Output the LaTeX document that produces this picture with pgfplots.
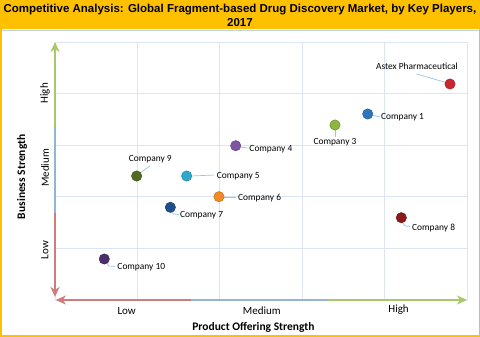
\documentclass[border=0pt]{standalone}
\usepackage{pgfplots}
\pgfplotsset{compat=1.18}
\usepackage{fontspec}
\setmainfont{Carlito}
\newfontfamily\arialf{Liberation Sans}
\usetikzlibrary{arrows.meta}
\definecolor{bandor}{HTML}{FFC000}
\definecolor{gridc}{HTML}{DCE6F2}
\definecolor{axred}{HTML}{D07C7C}
\definecolor{axblue}{HTML}{95B3D7}
\definecolor{axgreen}{HTML}{A9C86A}
\definecolor{lead}{HTML}{9DC3E6}
\definecolor{cA}{HTML}{C8282D}
\definecolor{cone}{HTML}{2E74C0}
\definecolor{cthree}{HTML}{8DB63C}
\definecolor{cfour}{HTML}{7D55A6}
\definecolor{cfive}{HTML}{2FA9CB}
\definecolor{cnine}{HTML}{4E6B1E}
\definecolor{csix}{HTML}{F08A24}
\definecolor{cseven}{HTML}{1F4E8C}
\definecolor{ceight}{HTML}{8B1A1A}
\definecolor{cten}{HTML}{4A2F6B}
\tikzset{ld/.style={lead, line width=0.7pt}, lb/.style={font=\fontsize{9.4}{11}\selectfont, inner sep=0pt}}
\pgfplotsset{pt/.style={only marks, mark=*, mark size=5.2pt, mark options={fill=#1, draw=#1!75!black, line width=0.4pt}}}
\begin{document}
\begin{tikzpicture}[x=1pt,y=1pt]
\useasboundingbox (0,0) rectangle (480,337);
\fill[white] (0,0) rectangle (480,337);
\fill[bandor] (0,307.5) rectangle (480,337);
\draw[axblue!60!white, line width=0.8] (1.5,307) -- (478.5,307);
\draw[bandor, line width=1.5] (0.75,0.75) rectangle (479.25,336.25);
\node[font=\arialf\bfseries\fontsize{11.5}{13}\selectfont, inner sep=0] at (240,327.5) {Competitive Analysis: Global Fragment-based Drug Discovery Market, by Key Players,};
\node[font=\arialf\bfseries\fontsize{11.5}{13}\selectfont, inner sep=0] at (240,314.5) {2017};
\node[font=\bfseries\fontsize{11.5}{13}\selectfont, inner sep=0] at (253.5,10) {Product Offering Strength};
\node[font=\bfseries\fontsize{11.5}{13}\selectfont, inner sep=0, rotate=90] at (22,160.3) {Business Strength};
\begin{axis}[at={(55pt,37pt)}, anchor=south west, scale only axis, width=412pt, height=258pt,
  xmin=0, xmax=5, ymin=0, ymax=5, xtick={0,...,5}, ytick={0,...,5},
  xticklabels={,,,,,}, yticklabels={,,,,,}, major tick length=0pt, grid=major,
  grid style={gridc, line width=0.8pt}, axis line style={draw=none}, clip=false]
% coloured axes
\draw[axblue, line width=1.6pt] (axis cs:1.655,0) -- (axis cs:3.313,0);
\draw[axred, line width=1.6pt, -{Stealth[length=10pt,width=9pt,inset=3pt]}] (axis cs:1.655,0) -- (axis cs:0.01,0);
\draw[axgreen, line width=1.6pt, -{Stealth[length=10pt,width=9pt,inset=3pt]}] (axis cs:3.313,0) -- (axis cs:5,0);
\draw[axblue, line width=1.6pt] (axis cs:0,1.686) -- (axis cs:0,3.35);
\draw[axred, line width=1.6pt, -{Stealth[length=10pt,width=9pt,inset=3pt]}] (axis cs:0,1.686) -- (axis cs:0,0.06);
\draw[axgreen, line width=1.6pt, -{Stealth[length=10pt,width=9pt,inset=3pt]}] (axis cs:0,3.35) -- (axis cs:0,5);
% level labels
\node[font=\fontsize{11}{13}\selectfont, yshift=-11pt] at (axis cs:0.87,0) {Low};
\node[font=\fontsize{11}{13}\selectfont, yshift=-11pt] at (axis cs:2.51,0) {Medium};
\node[font=\fontsize{11}{13}\selectfont, yshift=-9.5pt] at (axis cs:4.17,0) {High};
\node[xshift=-10pt, rotate=90, font=\fontsize{11}{13}\selectfont] at (axis cs:0,4.006) {High};
\node[xshift=-10pt, rotate=90, font=\fontsize{11}{13}\selectfont] at (axis cs:0,2.558) {Medium};
\node[xshift=-10pt, rotate=90, font=\fontsize{11}{13}\selectfont] at (axis cs:0,0.969) {Low};
% leader lines
\draw[ld] (axis cs:4.387,4.380) -- (axis cs:4.754,4.211);
\draw[ld] (axis cs:3.847,3.585) -- (axis cs:3.944,3.547);
\draw[ld] (axis cs:3.398,3.295) -- (axis cs:3.398,3.159);
\draw[ld] (axis cs:2.245,2.965) -- (axis cs:2.336,2.946);
\draw[ld] (axis cs:1.650,2.403) -- (axis cs:1.930,2.422);
\draw[ld] (axis cs:1.032,2.461) -- (axis cs:1.153,2.597);
\draw[ld] (axis cs:2.039,1.996) -- (axis cs:2.197,1.996);
\draw[ld] (axis cs:1.408,1.725) -- (axis cs:1.432,1.667) -- (axis cs:1.505,1.657);
\draw[ld] (axis cs:4.211,1.512) -- (axis cs:4.248,1.434) -- (axis cs:4.308,1.424);
\draw[ld] (axis cs:0.619,0.736) -- (axis cs:0.655,0.659) -- (axis cs:0.728,0.649);
% companies
\addplot[pt=cA] coordinates {(4.794,4.186)};
\addplot[pt=cone] coordinates {(3.795,3.605)};
\addplot[pt=cthree] coordinates {(3.398,3.391)};
\addplot[pt=cfour] coordinates {(2.193,2.990)};
\addplot[pt=cfive] coordinates {(1.598,2.403)};
\addplot[pt=cnine] coordinates {(0.991,2.403)};
\addplot[pt=csix] coordinates {(1.990,2.002)};
\addplot[pt=cseven] coordinates {(1.400,1.796)};
\addplot[pt=ceight] coordinates {(4.203,1.595)};
\addplot[pt=cten] coordinates {(0.598,0.795)};
% labels
\node[lb] at (axis cs:4.393,4.521) {Astex Pharmaceutical};
\node[lb, anchor=west] at (axis cs:3.956,3.533) {Company 1};
\node[lb] at (axis cs:3.398,3.05) {Company 3};
\node[lb, anchor=west] at (axis cs:2.358,2.926) {Company 4};
\node[lb, anchor=west] at (axis cs:1.962,2.40) {Company 5};
\node[lb] at (axis cs:1.157,2.727) {Company 9};
\node[lb, anchor=west] at (axis cs:2.221,1.97) {Company 6};
\node[lb, anchor=west] at (axis cs:1.517,1.64) {Company 7};
\node[lb, anchor=west] at (axis cs:4.333,1.40) {Company 8};
\node[lb, anchor=west] at (axis cs:0.756,0.626) {Company 10};
\end{axis}
\end{tikzpicture}
\end{document}
